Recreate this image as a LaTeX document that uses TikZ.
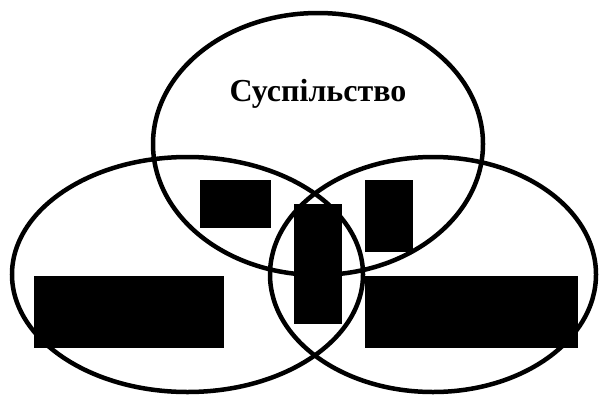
\documentclass[tikz,border=0pt]{standalone}
\usepackage{fontspec}
\setmainfont{Liberation Serif}
\usetikzlibrary{shapes.geometric}
\begin{document}
\begin{tikzpicture}[x=1pt,y=-1pt,
  ring/.style={draw=black,line width=4.5pt,ellipse,inner sep=0pt,outer sep=0pt},
  blackbox/.style={fill=black,draw=none,inner sep=0pt,outer sep=0pt,anchor=north west},
  title/.style={font=\fontsize{32}{36}\selectfont\bfseries,inner sep=0pt}]
\useasboundingbox (0,0) rectangle (599,394);
\node[ring,minimum width=330pt,minimum height=262pt] (top) at (318,144) {};
\node[ring,minimum width=351pt,minimum height=235pt] (left) at (187.5,274.5) {};
\node[ring,minimum width=326pt,minimum height=235pt] (right) at (433,274.5) {};
\node[title,anchor=base] (lbl) at (318,101) {Суспільство};
\node[blackbox,minimum width=71pt,minimum height=48pt] (b1) at (200,180) {};
\node[blackbox,minimum width=48pt,minimum height=72pt] (b2) at (365,180) {};
\node[blackbox,minimum width=48pt,minimum height=120pt] (b3) at (294,204) {};
\node[blackbox,minimum width=190pt,minimum height=72pt] (b4) at (34,276) {};
\node[blackbox,minimum width=213pt,minimum height=72pt] (b5) at (365,276) {};
\end{tikzpicture}
\end{document}
